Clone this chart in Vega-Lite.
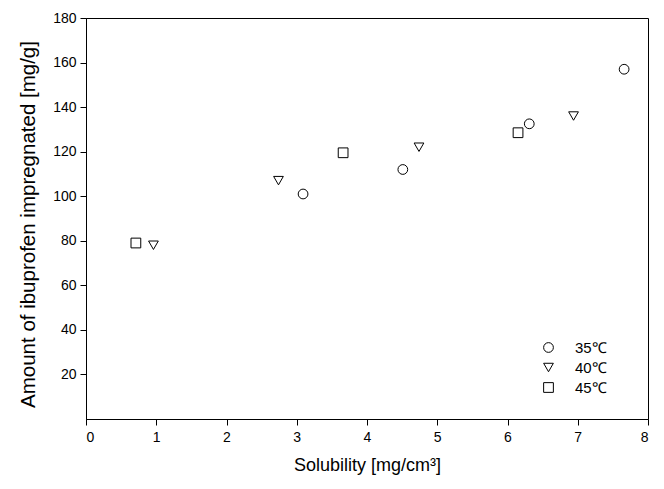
{
  "$schema": "https://vega.github.io/schema/vega-lite/v6.json",
  "width": 562,
  "height": 401,
  "autosize": {"type": "none"},
  "padding": {"left": 86, "top": 18, "right": 16, "bottom": 70},
  "background": "white",
  "config": {
    "view": {"stroke": "black", "strokeWidth": 1},
    "font": "Liberation Sans",
    "axis": {
      "grid": false,
      "domainColor": "black",
      "tickColor": "black",
      "labelColor": "black",
      "titleColor": "black",
      "labelFont": "Liberation Sans",
      "titleFont": "Liberation Sans",
      "labelFontSize": 14,
      "titleFontWeight": "normal",
      "tickSize": 6
    }
  },
  "data": {
    "values": [
      {"s": 3.09, "a": 101, "T": "35℃"},
      {"s": 4.51, "a": 112, "T": "35℃"},
      {"s": 6.31, "a": 132.5, "T": "35℃"},
      {"s": 7.66, "a": 157, "T": "35℃"},
      {"s": 0.96, "a": 78, "T": "40℃"},
      {"s": 2.74, "a": 107, "T": "40℃"},
      {"s": 4.74, "a": 122, "T": "40℃"},
      {"s": 6.94, "a": 136, "T": "40℃"},
      {"s": 0.71, "a": 79, "T": "45℃"},
      {"s": 3.66, "a": 119.5, "T": "45℃"},
      {"s": 6.15, "a": 128.5, "T": "45℃"}
    ]
  },
  "mark": {"type": "point", "filled": false, "stroke": "black", "strokeWidth": 1, "size": 95, "opacity": 1},
  "encoding": {
    "x": {
      "field": "s", "type": "quantitative",
      "scale": {"domain": [0, 8], "nice": false, "zero": false},
      "axis": {"values": [0, 1, 2, 3, 4, 5, 6, 7, 8], "title": "Solubility [mg/cm³]", "titleY": 37, "titleFontSize": 18, "labelPadding": 5}
    },
    "y": {
      "field": "a", "type": "quantitative",
      "scale": {"domain": [0, 180], "nice": false},
      "axis": {"values": [20, 40, 60, 80, 100, 120, 140, 160, 180], "title": "Amount of ibuprofen impregnated [mg/g]", "titleX": -48, "titleY": 206, "titleFontSize": 20.5, "labelPadding": 4}
    },
    "shape": {
      "field": "T", "type": "nominal",
      "scale": {"domain": ["35℃", "40℃", "45℃"], "range": ["circle", "triangle-down", "square"]},
      "legend": {
        "title": null,
        "orient": "none",
        "legendX": 455,
        "legendY": 322,
        "labelFontSize": 15,
        "labelFont": "Liberation Sans",
        "labelColor": "black",
        "symbolStrokeColor": "black",
        "symbolFillColor": "transparent",
        "symbolSize": 95,
        "symbolStrokeWidth": 1,
        "rowPadding": 4,
        "labelOffset": 19
      }
    }
  }
}
